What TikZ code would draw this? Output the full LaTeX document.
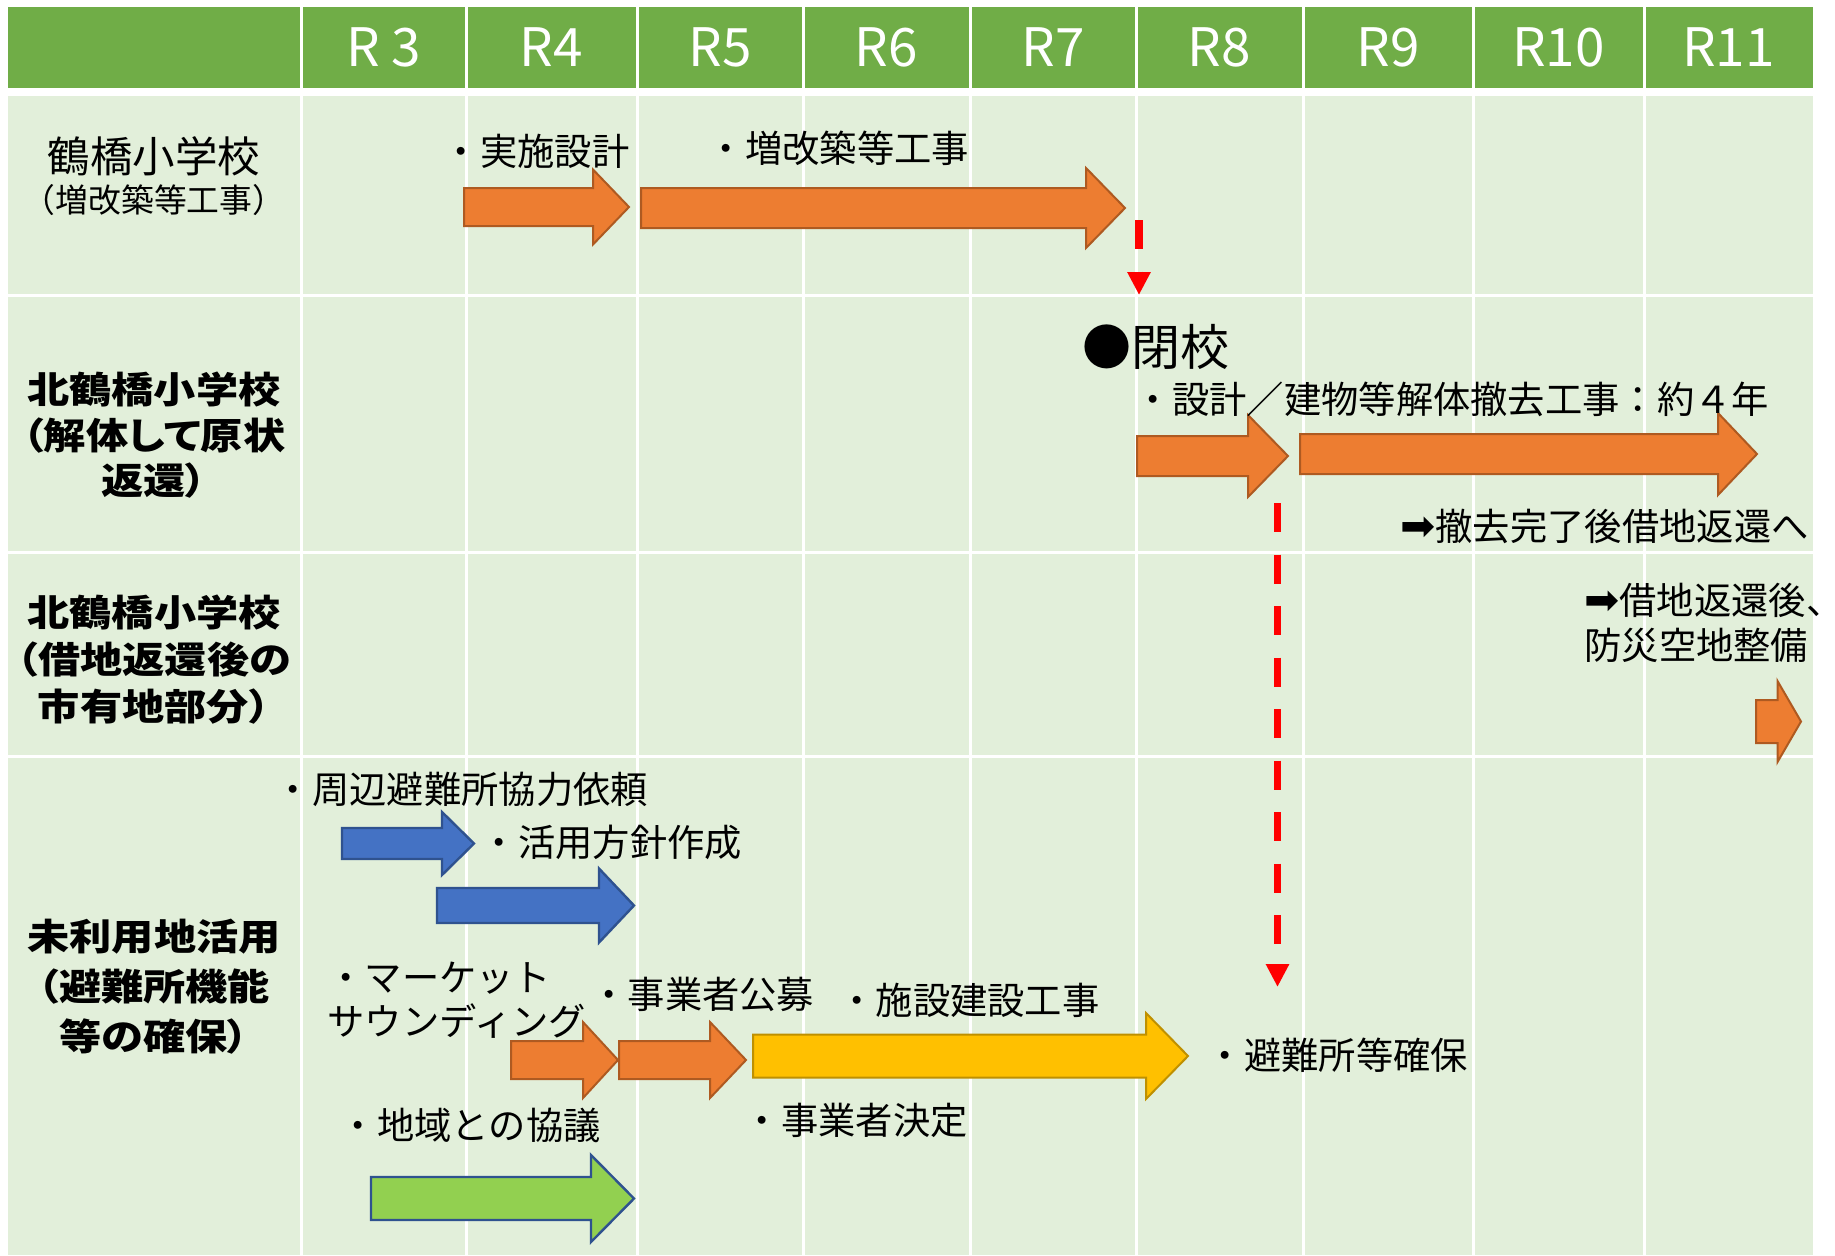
\documentclass[tikz,border=0pt]{standalone}
\usepackage{fontspec}
\setmainfont{Noto Sans CJK JP}
\newfontfamily\labelfont[FakeStretch=1.15, RawFeature={+palt}]{Noto Sans CJK JP}
\newfontfamily\symfont{DejaVu Sans}
\usepackage{xcolor}
\usetikzlibrary{arrows.meta}

\definecolor{headgreen}{HTML}{70AD47}
\definecolor{cellgreen}{HTML}{E2EFDA}
\definecolor{barorange}{HTML}{ED7D31}
\definecolor{edgeorange}{HTML}{AE5A21}
\definecolor{barblue}{HTML}{4472C4}
\definecolor{edgeblue}{HTML}{2F528F}
\definecolor{barlime}{HTML}{92D050}
\definecolor{baryellow}{HTML}{FFC000}
\definecolor{edgeyellow}{HTML}{BF9000}

% block arrow: style, left x, tip x, mid y, half body, half head, head length
\newcommand{\blockarrow}[7]{%
  \draw[#1] (#2, #4-#5) -- (#3-#7, #4-#5) -- (#3-#7, #4-#6) -- (#3, #4)
    -- (#3-#7, #4+#6) -- (#3-#7, #4+#5) -- (#2, #4+#5) -- cycle;}
% heavy arrow glyph
\newcommand{\goto}{{\symfont\fontsize{21}{22}\selectfont ➡}}

\begin{document}
\begin{tikzpicture}[x=0.5pt, y=-0.5pt,
  gridline/.style={white, line width=1.5pt},
  yearlbl/.style={text=white, inner sep=0pt, font=\fontsize{26.5}{30}\selectfont},
  rowlbl/.style={align=center, inner sep=0pt, font=\labelfont\bfseries\fontsize{18.35}{#1}\selectfont},
  task/.style={anchor=west, inner sep=0pt, font=\fontsize{18.65}{22}\selectfont},
  orangebar/.style={fill=barorange, draw=edgeorange, line width=1pt},
  bluebar/.style={fill=barblue, draw=edgeblue, line width=1.2pt},
  limebar/.style={fill=barlime, draw=edgeblue, line width=1.2pt},
  yellowbar/.style={fill=baryellow, draw=edgeyellow, line width=1pt},
  reddash/.style={red, line width=3.75pt, dash pattern=on 14.5pt off 11.25pt,
    -{Triangle[length=11.5pt, width=11pt]}}]
  \useasboundingbox (0,0) rectangle (1835,1255);

  % Table
  \fill[headgreen] (8,7) rectangle (1813,88);
  \fill[cellgreen] (8,96) rectangle (1813,1255);
  \draw[gridline] (301,7) -- (301,1255) (466,7) -- (466,1255)
    (637,7) -- (637,1255) (803,7) -- (803,1255) (970,7) -- (970,1255)
    (1136,7) -- (1136,1255) (1303,7) -- (1303,1255) (1473,7) -- (1473,1255)
    (1644,7) -- (1644,1255);
  \draw[gridline] (8,295) -- (1813,295) (8,552) -- (1813,552)
    (8,756) -- (1813,756);

  % Year labels
  \node[yearlbl] (r3) at (383.5,47.5) {R 3};
  \node[yearlbl] (r4) at (551.5,47.5) {R4};
  \node[yearlbl] (r5) at (720,47.5) {R5};
  \node[yearlbl] (r6) at (886.5,47.5) {R6};
  \node[yearlbl] (r7) at (1053,47.5) {R7};
  \node[yearlbl] (r8) at (1219.5,47.5) {R8};
  \node[yearlbl] (r9) at (1388,47.5) {R9};
  \node[yearlbl] (r10) at (1558.5,47.5) {R10};
  \node[yearlbl] (r11) at (1728.5,47.5) {R11};

  % Row labels
  \node[inner sep=0pt, font=\fontsize{21.25}{22}\selectfont] (tsuru) at (154,156) {鶴橋小学校};
  \node[inner sep=0pt, font=\fontsize{16.4}{20}\selectfont] (tsurusub) at (154,200) {（増改築等工事）};
  \node[rowlbl=22.75pt] (kita) at (154,435.5) {北鶴橋小学校\\（解体して原状\\返還）};
  \node[rowlbl=23.5pt] (kitashi) at (154,660) {北鶴橋小学校\\（借地返還後の\\市有地部分）};
  \node[rowlbl=25pt] (miriyo) at (154,987) {未利用地活用\\（避難所機能\\等の確保）};

  % Bars
  \blockarrow{orangebar}{464}{629}{207}{19}{37.5}{36}
  \blockarrow{orangebar}{641}{1125}{208}{20}{40}{39}
  \blockarrow{orangebar}{1137}{1288}{456}{20}{41}{40}
  \blockarrow{orangebar}{1300}{1757}{454}{20}{41}{39}
  \blockarrow{orangebar}{1756}{1801}{721.5}{21.5}{40.5}{23.5}
  \blockarrow{bluebar}{342}{474}{843.5}{15.5}{31.5}{32}
  \blockarrow{bluebar}{437}{634}{905.5}{17.5}{37}{35}
  \blockarrow{orangebar}{511}{618}{1060}{19}{38}{35}
  \blockarrow{orangebar}{619}{746}{1060}{19}{38}{36}
  \blockarrow{yellowbar}{753}{1188}{1056}{21.5}{43}{42}
  \blockarrow{limebar}{371}{634}{1198.5}{21.5}{43.5}{43}

  % Links
  \coordinate (kaikoA) at (1139,220);
  \coordinate (kaikoB) at (1139,295);
  \draw[reddash] (kaikoA) -- (kaikoB);
  \coordinate (hinanA) at (1277.5,503);
  \coordinate (hinanB) at (1277.5,987);
  \draw[reddash] (hinanA) -- (hinanB);

  % Tasks
  \node[task] (jisshi) at (442.5,151) {・実施設計};
  \node[task] (zoukai) at (707.5,148) {・増改築等工事};
  \node[task, font=\fontsize{24.5}{26}\selectfont] (heikou) at (1082,347) {●閉校};
  \node[task] (kaitai) at (1134.5,399) {・設計／建物等解体撤去工事：約４年};
  \node[task] (henkan) at (1400,526) {\goto 撤去完了後借地返還へ};
  \node[task, align=left, font=\fontsize{18.65}{22.5}\selectfont] (bousai) at (1584,622.5) {\goto 借地返還後、\\防災空地整備};
  \node[task] (kyoryoku) at (274.5,789) {・周辺避難所協力依頼};
  \node[task] (houshin) at (480.5,842) {・活用方針作成};
  \node[task, align=left] (market) at (327,1000) {・マーケット\\サウンディング};
  \node[task] (koubo) at (590,994) {・事業者公募};
  \node[task] (kensetsu) at (838,1000) {・施設建設工事};
  \node[task] (kettei) at (743.5,1120) {・事業者決定};
  \node[task] (kakuho) at (1206.5,1055) {・避難所等確保};
  \node[task] (kyougi) at (339.5,1125) {・地域との協議};
\end{tikzpicture}
\end{document}
